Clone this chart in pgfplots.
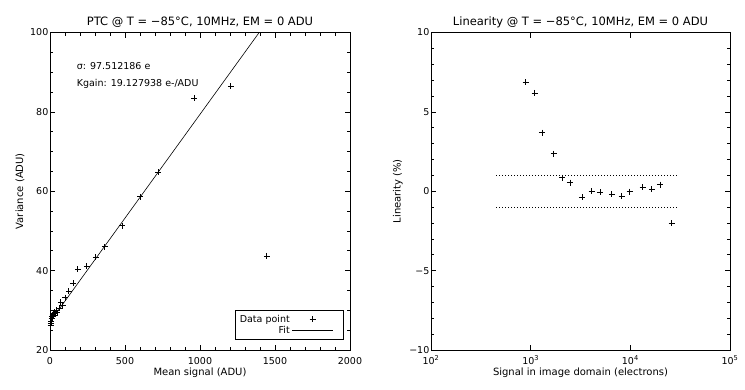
\documentclass[border=0pt]{standalone}
\usepackage{fontspec}
\setmainfont{DejaVu Sans}
\usepackage{pgfplots}
\pgfplotsset{compat=1.18}

\pgfplotstableread{
x y
4 26.2
6 26.8
8 27.3
10 27.9
12 28.4
15 28.0
18 28.9
21 29.3
24 28.6
30 29.5
36 29.1
42 30.0
48 29.4
60 30.5
72 32.0
84 31.2
100 33.2
125 34.8
155 36.8
185 40.3
245 41.1
305 43.4
365 46.0
482 51.3
602 58.6
722 64.8
962 83.5
1205 86.5
1445 43.7
}\ptcdata

\pgfplotstableread{
x y
890 6.86
1096 6.19
1297 3.69
1700 2.37
2085 0.86
2478 0.55
3270 -0.39
4085 0.0
4950 -0.05
6530 -0.19
8180 -0.30
9840 -0.03
13290 0.25
16440 0.14
19800 0.42
25900 -2.0
}\lindata

\pgfplotsset{
  myaxis/.style={
    scale only axis,
    anchor=south west,
    height=317.5pt,
    axis line style={line width=0.7pt},
    every tick/.style={black, line width=0.6pt},
    major tick length=5pt,
    minor tick length=3pt,
    tick align=inside,
    xtick pos=both, ytick pos=both,
    ticklabel style={font=\fontsize{9.5}{11}\selectfont},
    label style={font=\fontsize{9.5}{11}\selectfont},
    title style={font=\fontsize{11.5}{13}\selectfont},
    every axis title shift=0pt,
    xticklabel style={anchor=base, yshift=-14pt},
    yticklabel style={inner sep=1.5pt},
    every axis x label/.style={at={(axis description cs:0.5,-0.081)}, anchor=base},
  }
}

\begin{document}
\begin{tikzpicture}
\begin{axis}[myaxis,
  at={(50pt,39pt)}, width=300pt,
  xmin=0, xmax=2000, ymin=20, ymax=100,
  xtick={0,500,1000,1500,2000},
  xticklabels={0,500,1000,1500,2000},
  ytick={20,40,60,80,100},
  yticklabels={20,40,60,80,100},
  minor x tick num=4, minor y tick num=3,
  title={PTC @ T = −85°C, 10MHz, EM = 0 ADU},
  title style={at={(axis description cs:0.5,1.022)}, anchor=base},
  xlabel={Mean signal (ADU)},
  ylabel={Variance (ADU)},
  every axis y label/.style={at={(axis description cs:-0.09,0.5)}, anchor=base, rotate=90},
  legend plot pos=right,
  legend cell align=right,
  legend image code/.code={\draw[mark repeat=2,mark phase=2,#1] plot coordinates {(0pt,0pt) (20.5pt,0pt) (41pt,0pt)}; \path[draw=none,fill=none] (0pt,0pt) -- (49pt,0pt);},
  legend style={at={(axis description cs:0.978,0.032)}, anchor=south east,
    font=\fontsize{9.5}{11}\selectfont, draw=black, line width=0.7pt,
    inner xsep=2pt, inner ysep=2.5pt, row sep=-1.5pt,
    /tikz/every even column/.append style={column sep=7pt}},
]
\addplot[only marks, mark=+, mark size=3pt, mark options={line width=0.8pt}] table[x=x,y=y] {\ptcdata};
\addlegendentry{Data point}
\addplot[black, line width=0.6pt] coordinates {(5,27.36) (1500,105.52)};
\addlegendentry{Fit}
\node[anchor=base west, inner sep=0, font=\fontsize{9.5}{11}\selectfont] at (axis cs:178,90.8) {σ: 97.512186 e};
\node[anchor=base west, inner sep=0, font=\fontsize{9.5}{11}\selectfont] at (axis cs:178,86.5) {Kgain: 19.127938 e-/ADU};
\end{axis}

\begin{axis}[myaxis,
  at={(431pt,39pt)}, width=299pt,
  xmode=log, log basis x=10,
  xmin=100, xmax=100000, ymin=-10, ymax=10,
  xtick={100,1000,10000,100000},
  xticklabels={10\textsuperscript{2},10\textsuperscript{3},10\textsuperscript{4},10\textsuperscript{5}},
  ytick={-10,-5,0,5,10},
  yticklabels={−10,−5,0,5,10},
  minor y tick num=4,
  title={Linearity @ T = −85°C, 10MHz, EM = 0 ADU},
  title style={at={(axis description cs:0.5,1.022)}, anchor=base},
  xlabel={Signal in image domain (electrons)},
  ylabel={Linearity (\%)},
  every axis y label/.style={at={(axis description cs:-0.102,0.5)}, anchor=base, rotate=90},
]
\addplot[only marks, mark=+, mark size=3pt, mark options={line width=0.8pt}] table[x=x,y=y] {\lindata};
\addplot[black, line width=0.8pt, dash pattern=on 0.9pt off 2.1pt] coordinates {(450,1) (29000,1)};
\addplot[black, line width=0.8pt, dash pattern=on 0.9pt off 2.1pt] coordinates {(450,-1) (29000,-1)};
\end{axis}
\pgfresetboundingbox
\path[use as bounding box] (0,0) rectangle (745pt,389pt);
\end{tikzpicture}
\end{document}
